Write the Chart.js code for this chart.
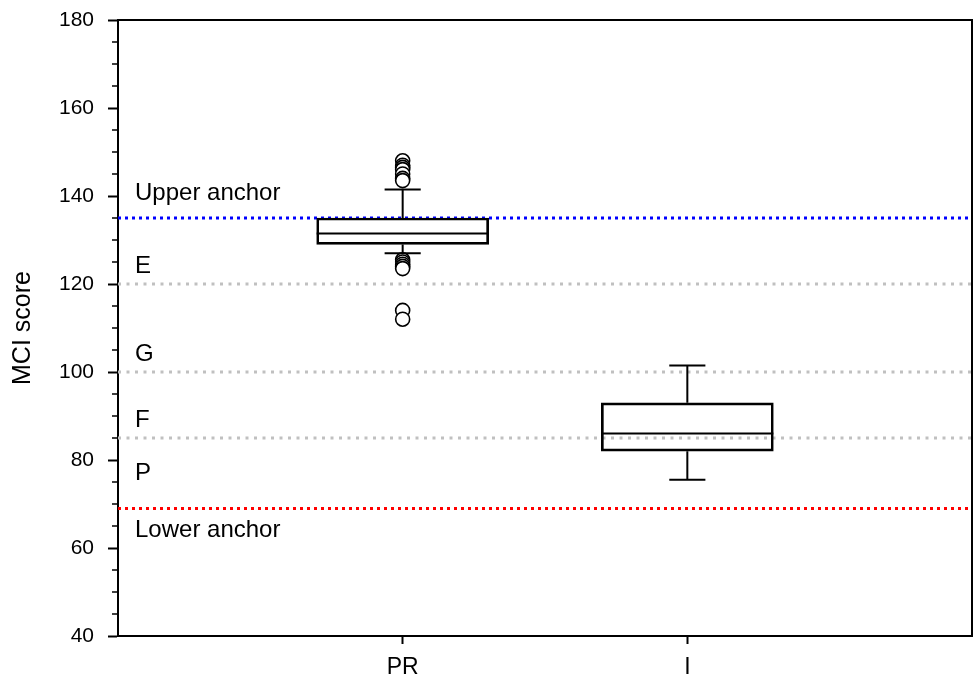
<!DOCTYPE html>
<html>
<head>
<meta charset="utf-8">
<script src="https://cdn.jsdelivr.net/npm/chart.js@4.4.1/dist/chart.umd.min.js"></script>
<style>
	body { margin: 0; background: #fff; }
	#wrap { width: 974px; height: 682px; }
</style>
</head>
<body>
<div id="wrap"><canvas id="mycanvas" width="974" height="682"></canvas></div>
<script>
// box plot values
var categories = ['PR', 'I'];
var lowerWhisker = [127, 75.5];
var q1 = [129, 82];
var median = [131.5, 86];
var q3 = [135, 93];
var upperWhisker = [141.5, 101.5];
var outliers = [
	[148, 147, 146.5, 146, 145, 144, 143.5, 125.5, 125, 124.5, 124, 123.5, 114, 112],
	[]
];

// horizontal reference lines
var refValues = [135, 120, 100, 85, 69];
var refColors = ['#0000ff', '#c0c0c0', '#c0c0c0', '#c0c0c0', '#ff0000'];

// band names written on the left
var bandText = ['Upper anchor', 'E', 'G', 'F', 'P', 'Lower anchor'];
var bandTextY = [140.5, 124, 104, 89, 77, 64];

var yMin = 40, yMax = 180, yStep = 20, yMinorStep = 5;

var labels = [''].concat(categories).concat(['']);

var datasets = [];
for (var r in refValues) {
	datasets.push({
		type: 'line',
		data: labels.map(function() { return refValues[r]; }),
		borderColor: refColors[r],
		borderWidth: 3,
		borderDash: refColors[r] == '#c0c0c0' ? [3, 5.5] : [3, 4],
		pointRadius: 0,
		fill: false,
		order: 3
	});
}

datasets.push({
	type: 'bar',
	data: labels.map(function(l, i) {
		var k = i - 1;
		if (k < 0 || k >= categories.length) return null;
		return [q1[k], q3[k]];
	}),
	backgroundColor: 'rgba(0,0,0,0)',
	borderColor: '#000',
	borderWidth: 2,
	borderSkipped: false,
	barThickness: 172,
	grouped: false,
	order: 2
});

var outPoints = [];
for (var c in categories) {
	for (var j in outliers[c]) {
		outPoints.push({ x: categories[c], y: outliers[c][j] });
	}
}
datasets.push({
	type: 'line',
	data: outPoints,
	showLine: false,
	pointRadius: 7,
	pointBorderWidth: 1.6,
	pointBorderColor: '#000',
	pointBackgroundColor: '#fff',
	order: 1
});

var boxPlugin = {
	id: 'boxParts',
	afterDatasetsDraw: function(chart) {
		var ctx = chart.ctx;
		var xs = chart.scales.x, ys = chart.scales.y;
		var barMeta = chart.getDatasetMeta(refValues.length);
		ctx.save();
		ctx.strokeStyle = '#000';
		ctx.lineWidth = 2;
		for (var i = 0; i < categories.length; i++) {
			var x = xs.getPixelForValue(i + 1);
			var half = barMeta.data[i + 1].width / 2;
			var cap = half * 0.21;
			ctx.beginPath();
			ctx.moveTo(x, ys.getPixelForValue(q3[i]));
			ctx.lineTo(x, ys.getPixelForValue(upperWhisker[i]));
			ctx.moveTo(x, ys.getPixelForValue(q1[i]));
			ctx.lineTo(x, ys.getPixelForValue(lowerWhisker[i]));
			ctx.moveTo(x - cap, ys.getPixelForValue(upperWhisker[i]));
			ctx.lineTo(x + cap, ys.getPixelForValue(upperWhisker[i]));
			ctx.moveTo(x - cap, ys.getPixelForValue(lowerWhisker[i]));
			ctx.lineTo(x + cap, ys.getPixelForValue(lowerWhisker[i]));
			ctx.moveTo(x - half, ys.getPixelForValue(median[i]));
			ctx.lineTo(x + half, ys.getPixelForValue(median[i]));
			ctx.stroke();
		}
		ctx.restore();
	},
	afterDraw: function(chart) {
		var ctx = chart.ctx;
		var a = chart.chartArea;
		var ys = chart.scales.y;
		ctx.save();
		// frame top and right
		ctx.strokeStyle = '#000';
		ctx.lineWidth = 2;
		ctx.beginPath();
		ctx.moveTo(a.left, a.top);
		ctx.lineTo(a.right, a.top);
		ctx.lineTo(a.right, a.bottom);
		ctx.stroke();
		// minor ticks
		ctx.lineWidth = 1.5;
		ctx.beginPath();
		for (var v = yMin; v <= yMax; v += yMinorStep) {
			if (v % yStep == 0) continue;
			var py = ys.getPixelForValue(v);
			ctx.moveTo(a.left - 6, py);
			ctx.lineTo(a.left, py);
		}
		ctx.stroke();
		// band names
		ctx.fillStyle = '#000';
		ctx.font = '24px "Liberation Sans", Arial, sans-serif';
		ctx.textAlign = 'left';
		ctx.textBaseline = 'middle';
		for (var t in bandText) {
			ctx.fillText(bandText[t], a.left + 17, ys.getPixelForValue(bandTextY[t]));
		}
		ctx.restore();
	}
};

var ctx = document.getElementById('mycanvas');
var chart = new Chart(ctx, {
	data: { labels: labels, datasets: datasets },
	plugins: [boxPlugin],
	options: {
		responsive: false,
		animation: false,
		devicePixelRatio: 1,
		layout: { autoPadding: false, padding: { left: 0, right: 2, top: 20, bottom: 0 } },
		plugins: { legend: { display: false }, tooltip: { enabled: false } },
		scales: {
			x: {
				type: 'category',
				offset: false,
				grid: { offset: false, drawOnChartArea: false, tickLength: 8, tickWidth: 2, tickColor: '#000' },
				border: { color: '#000', width: 2 },
				ticks: { color: '#000', padding: 10, maxRotation: 0, autoSkip: false,
					font: { size: 23, family: '"Liberation Sans", Arial, sans-serif' } },
				afterBuildTicks: function(scale) {
					scale.ticks = scale.ticks.filter(function(t) { return t.value >= 1 && t.value <= categories.length; });
				},
				afterFit: function(scale) {
					scale.height = 46;
					scale.paddingLeft = 0;
					scale.paddingRight = 0;
				}
			},
			y: {
				min: yMin,
				max: yMax,
				grid: { drawOnChartArea: false, tickLength: 10, tickWidth: 2, tickColor: '#000' },
				border: { color: '#000', width: 2 },
				ticks: { stepSize: yStep, color: '#000', padding: 14,
					font: { size: 21, family: '"Liberation Sans", Arial, sans-serif' } },
				title: { display: true, text: 'MCI score', color: '#000', padding: { top: 8, bottom: 0 },
					font: { size: 25, family: '"Liberation Sans", Arial, sans-serif' } },
				afterFit: function(scale) {
					scale.width = 118;
					scale.paddingTop = 0;
					scale.paddingBottom = 0;
				}
			}
		}
	}
});
</script>
</body>
</html>
